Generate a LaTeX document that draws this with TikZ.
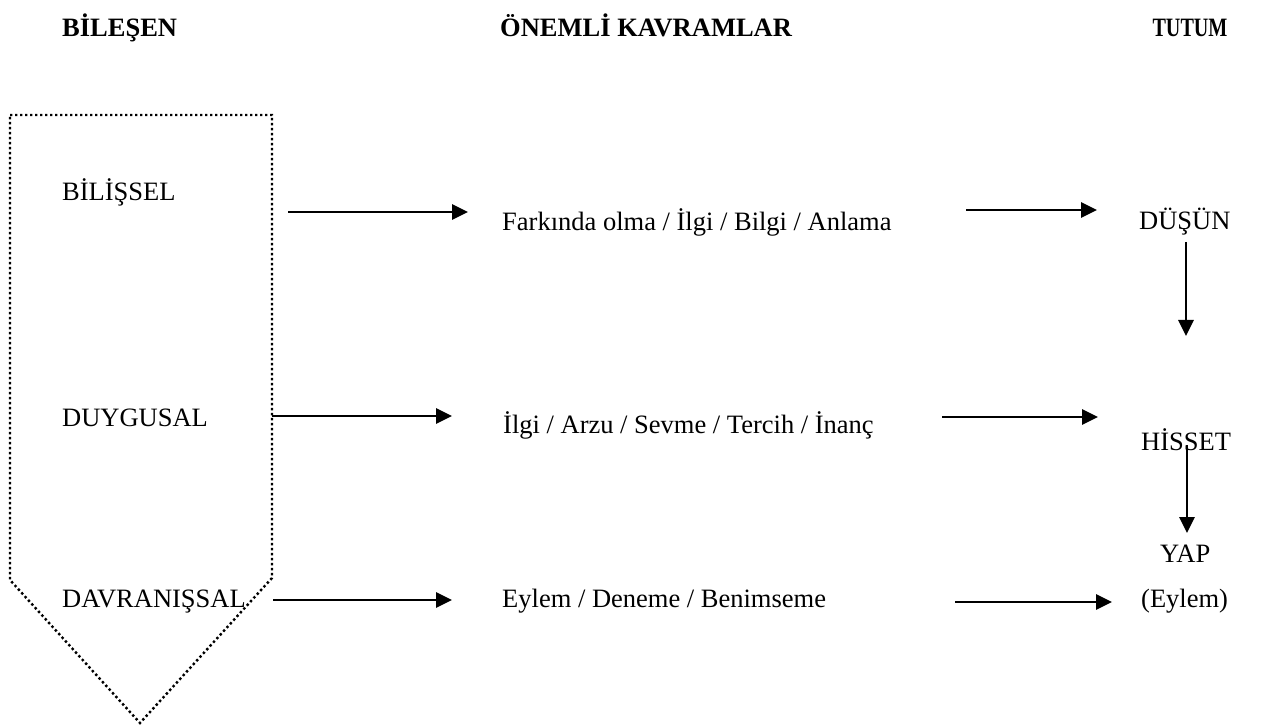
\documentclass[tikz,border=0pt]{standalone}
\usepackage{fontspec}
\setmainfont{Liberation Serif}
\usetikzlibrary{arrows.meta}
\tikzset{
  lbl/.style={inner sep=0pt, anchor=base west, font=\fontsize{26.5}{32}\selectfont},
  head/.style={lbl, font=\fontsize{26.5}{32}\selectfont\bfseries},
  arr/.style={line width=2.7pt, -{Triangle[length=16pt,width=15pt]}},
  frame/.style={line width=2.4pt, dash pattern=on 2.4pt off 2.6pt, line join=miter}
}
\begin{document}
\begin{tikzpicture}[x=1pt,y=-1pt]
\useasboundingbox (0,0) rectangle (1262,727);

% column headings
\node[head] (hBil) at (62,37) {BİLEŞEN};
\node[head] (hKav) at (500,37) {ÖNEMLİ KAVRAMLAR};
\node[head, anchor=base, xscale=0.76] (hTut) at (1190,37) {TUTUM};

% dotted arrow-shaped frame around the components
\draw[frame] (10,115) -- (272,115) -- (272,578) -- (140,723) -- (10,580) -- cycle;

% components
\node[lbl] (bil) at (62,201) {BİLİŞSEL};
\node[lbl] (duy) at (62,427) {DUYGUSAL};
\node[lbl] (dav) at (62,607) {DAVRANIŞSAL};

% key concepts
\node[lbl] (k1) at (502,231) {Farkında olma / İlgi / Bilgi / Anlama};
\node[lbl] (k2) at (503,433) {İlgi / Arzu / Sevme / Tercih / İnanç};
\node[lbl] (k3) at (502,607) {Eylem / Deneme / Benimseme};

% attitude stages
\node[lbl] (t1) at (1139,230) {DÜŞÜN};
\node[lbl] (t2) at (1141,450) {HİSSET};
\node[lbl] (t3) at (1160,562) {YAP};
\node[lbl] (t4) at (1141,607) {(Eylem)};

% arrow end points
\coordinate (a1s) at (288,212);  \coordinate (a1e) at (468,212);
\coordinate (b1s) at (966,210);  \coordinate (b1e) at (1097,210);
\coordinate (a2s) at (272,416);  \coordinate (a2e) at (452,416);
\coordinate (b2s) at (942,417);  \coordinate (b2e) at (1098,417);
\coordinate (a3s) at (273,600);  \coordinate (a3e) at (452,600);
\coordinate (b3s) at (955,602);  \coordinate (b3e) at (1112,602);
\coordinate (v1s) at (1186,242); \coordinate (v1e) at (1186,336);
\coordinate (v2s) at (1187,445); \coordinate (v2e) at (1187,533);

\draw[arr] (a1s) -- (a1e);
\draw[arr] (b1s) -- (b1e);
\draw[arr] (a2s) -- (a2e);
\draw[arr] (b2s) -- (b2e);
\draw[arr] (a3s) -- (a3e);
\draw[arr] (b3s) -- (b3e);
\draw[arr] (v1s) -- (v1e);
\draw[arr] (v2s) -- (v2e);
\end{tikzpicture}
\end{document}
